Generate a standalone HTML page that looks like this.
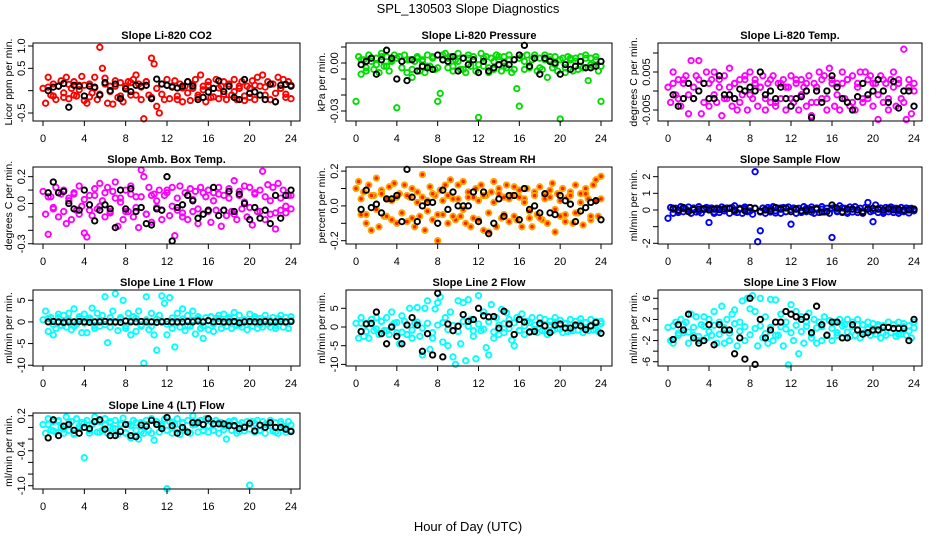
<!DOCTYPE html>
<html><head><meta charset="utf-8"><style>
html,body{margin:0;padding:0;background:#fff;}
svg{display:block;font-family:"Liberation Sans",sans-serif;}
</style></head><body>
<svg id="c" width="936" height="540" viewBox="0 0 936 540">
<text x="468" y="13" text-anchor="middle" font-size="13">SPL_130503  Slope Diagnostics</text>
<text x="468" y="531" text-anchor="middle" font-size="13">Hour of Day (UTC)</text>
</svg>
<script>
const hoursA=[0,0.25,0.5,0.75,1,1.25,1.5,1.75,2,2.25,2.5,2.75,3,3.25,3.5,3.75,4,4.25,4.5,4.75,5,5.25,5.5,5.75,6,6.25,6.5,6.75,7,7.25,7.5,7.75,8,8.25,8.5,8.75,9,9.25,9.5,9.75,10,10.25,10.5,10.75,11,11.25,11.5,11.75,12,12.25,12.5,12.75,13,13.25,13.5,13.75,14,14.25,14.5,14.75,15,15.25,15.5,15.75,16,16.25,16.5,16.75,17,17.25,17.5,17.75,18,18.25,18.5,18.75,19,19.25,19.5,19.75,20,20.25,20.5,20.75,21,21.25,21.5,21.75,22,22.25,22.5,22.75,23,23.25,23.5,23.75,24];
const hoursK=[0.5,1,1.5,2,2.5,3,3.5,4,4.5,5,5.5,6,6.5,7,7.5,8,8.5,9,9.5,10,10.5,11,11.5,12,12.5,13,13.5,14,14.5,15,15.5,16,16.5,17,17.5,18,18.5,19,19.5,20,20.5,21,21.5,22,22.5,23,23.5,24];
const xTicks=[0,4,8,12,16,20,24];

const co2A=[0.05,-0.28,0.3,-0.1,0.15,-0.2,0.1,0.22,-0.15,0.3,-0.18,0.05,0.2,-0.12,0.12,0.32,-0.22,-0.28,0.15,-0.05,0.3,-0.2,0.97,0.5,0.28,-0.28,0.1,-0.3,0.22,-0.15,0.18,-0.25,0.1,0.2,-0.1,0.25,0.35,0.15,-0.2,-0.63,0.2,-0.1,0.73,0.6,-0.35,-0.5,0.15,-0.2,0.25,-0.18,0.1,0.22,-0.2,0.15,-0.25,0.1,0.2,-0.22,0.05,0.25,-0.15,0.35,0.1,-0.25,0.2,-0.15,0.05,0.25,-0.18,0.1,0.2,-0.2,0.15,-0.1,0.25,-0.2,0.05,0.2,-0.22,0.1,-0.15,0.22,-0.2,0.3,0.1,0.35,-0.1,0.2,-0.2,0.15,-0.25,0.3,0.05,0.25,-0.15,0.2,-0.18];
const co2B=[0.08,-0.12,0.1,-0.05,0.14,-0.1,0.02,0.12,-0.14,0.06,-0.08,0.15,-0.02,0.1,-0.12,0.05,0.18,-0.1,0.08,0.2,-0.15,0.05,-0.08,0.12,0.1,-0.12,0.06,-0.05,0.14,-0.1,0.02,0.12,-0.14,0.06,-0.08,0.1,-0.02,0.1,-0.12,0.05,0.12,-0.1,0.08,0.14,-0.06,0.05,-0.08,0.12];
const co2K=[0,0.08,0.1,0.16,-0.37,0.12,0.1,-0.12,0.1,0.08,-0.1,0.18,0,0.15,-0.18,0.04,-0.02,0.12,0.1,0.12,-0.18,0.26,0.15,0.12,0.08,0.06,0.1,0.2,0.1,-0.2,-0.15,-0.03,0.05,0.22,-0.02,0.1,-0.15,-0.2,0.25,-0.06,-0.03,-0.1,-0.2,0.15,-0.25,0.12,0.14,0.1];

const presA=[-0.024,0.004,-0.007,0.002,-0.005,0.005,0.001,-0.004,0.003,-0.006,0.006,-0.002,0.004,-0.005,0.002,0.005,-0.028,0.004,-0.003,0.005,-0.006,0.002,-0.009,0.001,0.004,-0.005,0.002,-0.006,0.005,-0.002,0.003,-0.004,-0.024,-0.019,0.005,0.006,-0.003,0.004,-0.005,0.002,0.006,-0.004,0.003,-0.006,0.005,-0.002,0.004,-0.005,-0.034,0.006,-0.002,0.004,-0.006,0.003,-0.004,0.005,0.002,-0.005,0.004,-0.003,0.005,-0.006,0.002,-0.016,-0.027,0.004,-0.004,0.005,-0.003,0.002,0.005,-0.005,0.003,-0.004,0.005,-0.009,0.002,-0.003,0.004,-0.005,-0.035,0.003,-0.006,0.004,0.002,-0.005,0.003,-0.004,0.004,-0.003,0.005,-0.011,0.003,-0.002,0.004,-0.005,-0.024];
const presB=[0.002,-0.003,0.003,-0.001,0.004,-0.002,0.001,0.003,-0.003,0.002,-0.004,0.003,0.001,-0.002,0.004,-0.003,0.002,0.003,-0.002,0.001,-0.004,0.003,0.002,-0.001,0.003,-0.003,0.001,0.004,-0.002,0.002,-0.004,0.003,0.001,-0.002,0.003,-0.003,0.002,0.004,-0.001,0.002,-0.003,0.003,0.001,-0.002,0.003,-0.001,0.002,-0.002];
const presK=[-0.001,0.001,0.003,-0.007,0.002,0.008,0.003,-0.010,0.001,-0.011,0.002,-0.005,-0.002,-0.003,-0.004,0.005,0.002,0.001,0.004,-0.005,0.003,-0.001,0.002,-0.006,0.001,-0.005,-0.003,-0.001,0,-0.001,0.002,0.005,0.011,-0.002,0.003,-0.007,0.003,0.001,0,-0.007,-0.001,-0.004,-0.002,0.001,-0.003,-0.003,-0.002,0.001];

const tempA=[0.001,-0.003,0.005,-0.001,0.003,-0.004,0.002,0.004,-0.006,0.008,-0.002,0.004,0.008,-0.006,0.002,0.005,-0.004,0.003,0.005,-0.003,0.001,-0.0065,0.004,-0.002,0.006,-0.004,0.002,-0.005,0.003,-0.001,0.004,-0.005,0.005,-0.002,0.003,-0.004,0.001,0.004,-0.005,0.002,-0.003,0.004,-0.004,0.002,-0.002,0.003,-0.005,0.001,0.004,-0.003,0.002,-0.005,0.003,0.001,-0.004,0.004,-0.0065,0.002,-0.003,0.005,-0.002,0.004,-0.005,0.006,0.003,-0.004,0.002,-0.005,0.005,-0.002,0.003,-0.004,0.004,-0.005,0.002,0.005,-0.003,0.005,-0.002,0.004,-0.004,0.002,-0.0075,0.004,-0.003,0.002,-0.005,0.003,0.005,-0.004,0.003,-0.002,0.011,-0.0075,0.003,-0.006,0];
const tempB=[0.002,-0.002,0.003,-0.001,0.001,0.003,-0.003,0.002,-0.001,0.003,-0.002,0.001,0.002,-0.003,0.003,-0.001,0.002,0.001,-0.002,0.003,-0.003,0.002,0.001,-0.002,0.003,-0.001,0.002,-0.003,0.001,0.003,-0.002,0.002,-0.001,0.002,0.003,-0.003,0.001,-0.002,0.003,0.002,-0.001,0.003,-0.002,0.001,0.002,-0.003,0.001,0.002];
const tempK=[-0.001,-0.004,-0.002,0.002,-0.002,0,0.002,-0.002,-0.002,0.004,-0.001,-0.001,-0.002,0.0005,0,0.001,0,0.005,-0.001,0,-0.002,0.001,-0.002,-0.004,-0.002,-0.0015,0,-0.007,0,-0.003,0,0.004,0.001,-0.002,-0.003,-0.005,-0.0015,0.002,-0.001,0,0.003,0,-0.003,0.0025,-0.0045,0,0,-0.004];

const ambA=[0.09,-0.08,-0.23,0.05,-0.03,0.12,-0.1,0.07,0.1,-0.15,0.04,-0.12,0.08,-0.05,0.13,-0.02,-0.22,-0.25,0.06,-0.09,0.11,-0.04,0.15,0.02,-0.1,0.12,-0.06,0.09,0.16,-0.17,0.04,-0.12,0.1,-0.06,0.13,-0.1,0.05,-0.18,0.25,0.2,-0.08,0.12,-0.14,0.07,-0.03,0.1,-0.12,0.06,0.1,-0.09,0.12,-0.24,-0.05,0.13,-0.1,0.08,-0.12,0.11,-0.06,0.09,-0.15,0.12,-0.08,0.05,0.1,-0.14,0.08,-0.05,0.12,-0.17,0.06,-0.09,0.11,-0.06,0.17,-0.12,0.09,-0.04,0.13,-0.1,0.12,-0.16,0.08,-0.06,0.1,0.24,-0.12,0.14,-0.08,0.12,-0.19,0.15,-0.05,0.1,-0.07,0.06,-0.04];
const ambB=[0.05,-0.04,0.08,-0.06,0.02,0.07,-0.08,0.03,-0.05,0.06,-0.02,0.08,-0.07,0.04,0.01,-0.06,0.07,-0.03,0.05,-0.08,0.06,0.02,-0.05,0.08,-0.02,0.04,-0.07,0.06,0.03,-0.04,0.08,-0.06,0.02,0.07,-0.05,0.04,-0.08,0.06,0.01,-0.03,0.07,-0.06,0.05,0.02,-0.07,0.04,-0.02,0.06];
const ambK=[0.08,0.16,0.08,0.09,0,-0.04,-0.05,0.1,-0.01,-0.13,-0.05,-0.01,-0.04,-0.18,0.1,-0.04,0.11,-0.06,-0.03,-0.15,-0.16,-0.04,-0.05,0.2,-0.28,-0.03,-0.01,0.06,0.02,-0.11,-0.08,-0.05,0.12,-0.09,-0.05,0.09,-0.06,0.07,0,-0.12,-0.03,-0.11,-0.05,-0.15,0.06,-0.11,0.06,0.1];

const rhA=[0.1,0.14,-0.05,0.08,-0.1,0.12,-0.14,0.06,0.16,-0.12,0.09,-0.06,0.04,0.11,-0.08,0.13,-0.1,0.07,-0.04,0.12,-0.09,0.05,0.1,-0.12,0.08,-0.06,0.18,-0.14,0.03,0.11,-0.08,0.06,-0.2,0.09,-0.05,0.12,-0.1,0.15,0.04,-0.08,0.12,-0.06,0.14,-0.1,0.08,-0.12,0.05,0.1,-0.08,0.12,-0.14,0.06,-0.15,0.08,0.14,-0.12,0.1,-0.07,0.05,0.12,-0.09,0.06,0.11,-0.08,0.09,-0.12,0.04,0.1,-0.07,-0.12,0.08,-0.05,0.11,-0.08,0.06,-0.1,0.09,0.13,-0.15,0.07,-0.06,0.1,-0.09,0.05,0.08,-0.1,0.12,-0.04,0.07,-0.11,0.1,0.04,-0.08,0.12,0.15,-0.06,0.17];
const rhB=[0.04,-0.05,0.06,-0.02,0.07,-0.06,0.03,0.05,-0.04,0.06,-0.07,0.02,0.05,-0.03,0.07,-0.05,0.03,0.06,-0.06,0.04,-0.02,0.05,-0.07,0.03,0.06,-0.04,0.02,0.07,-0.05,0.04,-0.06,0.05,0.02,-0.03,0.06,-0.07,0.04,0.05,-0.02,0.03,-0.05,0.06,-0.04,0.02,0.07,-0.06,0.03,0.04];
const rhK=[-0.02,0.09,-0.01,0.01,-0.04,0.04,0.04,0.06,-0.09,0.21,0.05,-0.09,0,0.02,0.02,-0.1,0.09,-0.02,0.08,0,0,0,0.08,-0.09,0.08,-0.16,-0.1,0.04,-0.06,0.06,0.06,-0.08,0.1,-0.02,0,-0.04,0.07,-0.04,-0.05,0.06,0.03,0.01,-0.09,-0.03,-0.01,0.02,0.03,-0.08];

const sampA=[-0.5,0.15,-0.2,0.1,-0.15,0.2,-0.1,0.05,0.18,-0.2,0.1,-0.12,0.2,-0.18,0.05,0.15,-0.75,0.12,-0.2,0.1,-0.15,0.18,-0.05,0.12,-0.2,0.15,0.25,-0.15,0.1,-0.2,0.18,-0.1,0.15,-0.25,2.3,-1.9,-1.25,0.12,-0.2,0.15,-0.12,0.2,-0.18,0.1,-0.2,0.15,-0.1,0.18,-0.85,0.12,-0.2,0.1,-0.15,0.2,-0.1,0.05,0.18,-0.2,0.12,-0.15,0.2,-0.12,0.1,-0.2,-1.65,0.15,-0.1,0.25,-0.15,0.1,-0.2,0.18,-0.12,0.2,-0.15,0.1,-0.2,0.15,0.45,-0.1,-0.7,0.3,-0.15,0.12,-0.2,0.15,-0.1,0.18,-0.15,0.1,-0.2,0.15,-0.1,0.12,-0.18,0.1,0.05];
const sampB=[0.05,-0.1,0.08,-0.05,0.12,-0.08,0.02,0.1,-0.12,0.06,-0.04,0.1,-0.1,0.05,0.08,-0.06,0.1,-0.12,0.04,0.08,-0.05,0.12,-0.1,0.02,0.08,-0.06,0.1,-0.12,0.05,0.04,-0.08,0.1,-0.05,0.12,-0.1,0.06,0.02,-0.08,0.1,-0.04,0.08,-0.12,0.05,0.1,-0.06,0.02,0.08,-0.05];
const sampK=[0.1,0,0.15,-0.1,0.02,0.05,0.08,0,0.05,0.02,0.08,0.1,0,0.05,-0.05,0.15,0.1,-0.08,0,-0.05,0.15,0.05,0.12,-0.1,0.05,-0.05,0,0.02,0.05,-0.12,-0.1,0.3,0.1,-0.1,0.05,0.05,0,-0.15,0.05,0.1,0.05,0,0.1,0,0.05,0,0,0.05];

const l1A=[0.5,2.5,-2.2,1,-3,-1.5,1.8,-0.8,1.5,-1.2,2,-1.8,3,-0.5,1.2,-2.5,1.8,-2.5,0.5,3.2,-1.5,2,-1,1.5,5.8,-4.8,-1.2,2.5,6.5,-2,1,5,-1.5,2,-3,1.2,-2.2,2.5,-1,-9.5,5.8,-1.8,2,-3,-6.5,1.5,6,4.3,-3,5.6,-1.5,-5.8,2,-1.2,3,-2,1.5,-1,2.5,-2.8,1.2,-1.5,-3.8,1,-1.8,1.2,-2.2,0.8,1.5,-1.5,1.8,-1,1,-1.5,2.2,-0.8,1.5,-1.2,0.5,-1.8,1.8,-1,1.2,-1.5,0.8,-1.2,1.5,-0.5,-1.2,1,-1.5,0.8,1.5,-1.2,1,-1.5,1.2];
const l1B=[0.8,-0.6,1,-0.4,0.5,-1,0.7,-0.3,0.9,-0.8,0.4,-0.6,1,-0.2,0.6,-0.9,0.3,0.8,-0.7,0.5,-1,0.6,0.2,-0.5,0.9,-0.3,0.7,-0.8,0.4,0.6,-0.9,0.3,-0.5,0.8,-0.4,0.6,1,-0.7,0.2,-0.3,0.7,-0.6,0.5,0.3,-0.8,0.6,-0.2,0.4];
const l1K=[0,0.1,0,-0.1,0,0,0.1,0,-0.1,0,0,0.1,0,0,-0.1,0.2,0,0,0.1,0,0,-0.1,0,0.1,0,0,0,0.1,0,0.2,0,0.3,0,0.1,0,0,0.1,-0.2,0,0.1,0,0,0.1,0,0,0.1,0,0.1];

const l2A=[1,-3,2.5,-2.5,1,-3,2,-1,2.5,-2,1.5,-1,2.5,-2,4,1,-1.5,-4.5,3,1.5,-2,5,-3,1,5.2,-2.5,-7.5,5,7,-6,-3,4.8,6.5,8,-4,2.5,-5,4,-8,-10,7,-4.5,6.5,-9,7.3,2,-2.5,-8.5,8.4,-1,4,-5.5,-7.5,6,-3,2.5,-2,4.7,-1.5,3.8,2,-3.5,-5,2.5,-1,3.5,-2,1.5,-1.5,2.5,0.5,-1.5,2.5,-1,2,-2,1.5,-1,2.5,-0.5,1.8,-1.5,1,-1.2,2,-1,1.5,-0.8,2.2,-1.5,1.2,-1,2,-0.8,1.5,-1.2,1.5];
const l2B=[1,-1.2,0.8,-0.5,1.5,-1,0.3,1.2,-1.4,0.6,-0.8,1.3,-0.3,1,-1.5,0.5,1.2,-0.7,0.4,-1.2,1.5,0.2,-1,0.8,-0.6,1.4,-1.3,0.5,0.9,-0.4,1.1,-0.9,0.3,1.2,-0.6,0.7,-1.1,0.4,1.3,-0.5,0.8,-1,0.6,1.1,-0.8,0.2,-0.6,0.9];
const l2K=[-1.2,0.8,1,4,-1.8,-4.5,0,-2.5,-4.5,0.5,2.5,0.5,-6.5,-1.8,-7.5,9,-8,0.8,-1,0.2,3.3,1.5,2,5,3,2.7,2.8,-0.3,4.2,0.8,-2,2,1.3,-1.3,-1.2,1,0.3,-1.5,0.5,0.8,-0.3,-0.3,0.5,0.3,-0.7,0.3,1.2,-1.7];

const l3A=[0.5,-2,-2.5,1.5,-1,2,-0.5,1.5,-2.5,3,-1,2.5,-2,1,2.5,-1.5,2,-1,3.5,-2.5,1.5,4.5,-2.5,2,-2,3,3.8,-3,1.5,5.5,-2,6,4,6.5,3.5,-3,6,-1.5,2.5,-2.5,5.8,-2,5.7,-1,3,-3,1.5,-6.6,4.8,-2,3.5,-4.5,2.5,-2.5,1.5,3.2,-1.5,2,-2.5,1.5,-2,2.5,-1,1.8,-2,1.5,-1,2,-1.5,1,2,-1.2,1.5,-1,2,-1.5,1,-0.5,1.5,-1,1.2,-0.8,1,-1.5,0.8,-1,1.5,-0.5,1,-1.2,1.5,-0.8,1.2,-1,0.8,-1.5,1.5];
const l3B=[0.8,-0.6,1,-0.4,0.5,-1.2,0.7,-0.3,0.9,-0.8,0.4,-0.6,1.2,-0.2,0.6,-0.9,0.3,0.8,-0.7,0.5,-1,0.6,0.2,-0.5,0.9,-0.3,0.7,-0.8,0.4,0.6,-0.9,0.3,-0.5,0.8,-0.4,0.6,1,-0.7,0.2,-0.3,0.7,-0.6,0.5,0.3,-0.8,0.6,-0.2,0.4];
const l3K=[-1.8,1,0,3,-1.5,-2.5,-2,1,-2.8,1,0,0,-4.5,-1.5,-5.5,6,-6.5,2,-1.5,0,1.5,1.5,3.5,3,2.5,2,2.5,-0.5,4.5,1,-1,1.5,1.5,-1.5,-1.5,1,0,-0.8,-0.5,0,0,0.5,0.5,0.3,0.3,0.3,-2,2];

const l4A=[0.05,-0.1,0.15,-0.05,0.1,-0.08,0.12,0,-0.1,0.18,-0.05,0.1,-0.12,0.15,-0.02,0.08,-0.52,0.12,-0.1,0.05,0.18,-0.08,0.1,-0.05,0.15,-0.1,0.08,-0.02,0.12,-0.12,0.05,0.16,-0.1,0.05,-0.18,0.12,-0.05,-0.2,0.08,-0.1,0.12,-0.05,0.15,-0.22,0.1,-0.08,0.05,0.14,-1.05,0.1,-0.1,0.05,0.15,-0.12,0.08,-0.05,0.12,-0.1,0.2,0.05,-0.08,0.12,-0.05,0.15,-0.08,0.1,-0.05,0.12,-0.1,0.08,0.02,-0.2,0.1,-0.05,0.12,-0.1,0.05,0.08,-0.06,0.1,-0.99,0.1,-0.08,0.12,-0.05,0.1,-0.1,0.06,0.12,-0.06,0.08,-0.1,0.1,0.02,-0.08,0.1,-0.05];
const l4B=[0.05,-0.06,0.1,-0.03,0.08,-0.1,0.02,0.07,-0.05,0.09,-0.08,0.04,0.1,-0.02,0.06,-0.09,0.03,0.08,-0.07,0.05,-0.1,0.06,0.02,-0.05,0.09,-0.03,0.07,-0.08,0.04,0.1,-0.06,0.03,-0.05,0.08,-0.04,0.06,0.1,-0.07,0.02,-0.03,0.07,-0.06,0.05,0.03,-0.08,0.06,-0.02,0.04];
const l4K=[-0.18,0.13,-0.14,0.02,0.05,-0.05,-0.1,0,-0.02,0.1,0.13,-0.03,-0.14,-0.14,-0.07,0.05,-0.14,-0.16,0.04,0.02,0.12,0.05,-0.02,0.17,0.03,-0.1,0,-0.08,0.08,0.08,0.05,0.15,0.06,0.06,0.06,0.03,0.03,-0.02,0,0.07,-0.06,0.04,0,0.08,0,0,-0.03,-0.07];

const colsX=[[33,300,43,291],[346,612,356,601],[658,922,668,914]];
const rowsY=[[43,121],[167,244],[290,366],[413,489]];
const panels=[
 {name:'co2',title:'Slope Li-820 CO2',ylab:'Licor ppm per min.',c:0,r:0,ymax:1.067,ymin:-0.679,ticks:[-0.5,0,0.5,1],labels:['-0.5','','0.5','1.0'],col:'#ff0000',A:co2A,B:co2B,K:co2K},
 {name:'pressure',title:'Slope Li-820 Pressure',ylab:'kPa per min.',c:1,r:0,ymax:0.0125,ymin:-0.03625,ticks:[-0.03,-0.02,-0.01,0,0.01],labels:['-0.03','','','0.00',''],col:'#00dd00',A:presA,B:presB,K:presK},
 {name:'temp',title:'Slope Li-820 Temp.',ylab:'degrees C per min.',c:2,r:0,ymax:0.01263,ymin:-0.00789,ticks:[-0.005,0,0.005,0.01],labels:['-0.005','','0.005',''],col:'#ff00ff',A:tempA,B:tempB,K:tempK},
 {name:'amb-box-temp',title:'Slope Amb. Box Temp.',ylab:'degrees C per min.',c:0,r:1,ymax:0.272,ymin:-0.302,ticks:[-0.3,-0.2,-0.1,0,0.1,0.2],labels:['-0.3','','','0.0','','0.2'],col:'#ff00ff',A:ambA,B:ambB,K:ambK},
 {name:'gas-rh',title:'Slope Gas Stream RH',ylab:'percent per min.',c:1,r:1,ymax:0.2236,ymin:-0.219,ticks:[-0.2,-0.1,0,0.1,0.2],labels:['-0.2','','0.0','','0.2'],col:'#ffa500',fill:'#ff2000',A:rhA,B:rhB,K:rhK},
 {name:'sample-flow',title:'Slope Sample Flow',ylab:'ml/min per min.',c:2,r:1,ymax:2.58,ymin:-2.04,ticks:[-2,-1,0,1,2],labels:['-2','','0','1','2'],col:'#0000ff',A:sampA,B:sampB,K:sampK},
 {name:'line1-flow',title:'Slope Line 1 Flow',ylab:'ml/min per min.',c:0,r:2,ymax:7.37,ymin:-10.18,ticks:[-10,-5,0,5],labels:['-10','-5','0','5'],col:'#00ffff',A:l1A,B:l1B,K:l1K},
 {name:'line2-flow',title:'Slope Line 2 Flow',ylab:'ml/min per min.',c:1,r:2,ymax:9.89,ymin:-10.43,ticks:[-10,-5,0,5],labels:['-10','-5','0','5'],col:'#00ffff',A:l2A,B:l2B,K:l2K},
 {name:'line3-flow',title:'Slope Line 3 Flow',ylab:'ml/min per min.',c:2,r:2,ymax:7.57,ymin:-6.81,ticks:[-6,-4,-2,0,2,4,6],labels:['-6','','-2','','2','','6'],col:'#00ffff',A:l3A,B:l3B,K:l3K},
 {name:'line4-flow',title:'Slope Line 4 (LT) Flow',ylab:'ml/min per min.',c:0,r:3,ymax:0.247,ymin:-1.056,ticks:[-1,-0.8,-0.6,-0.4,-0.2,0,0.2],labels:['-1.0','','','-0.4','','','0.2'],col:'#00ffff',A:l4A,B:l4B,K:l4K}
];
const NS='http://www.w3.org/2000/svg';
const svg=document.getElementById('c');
function mk(tag,attrs,parent){const e=document.createElementNS(NS,tag);for(const k in attrs)e.setAttribute(k,attrs[k]);parent.appendChild(e);return e;}
panels.forEach(p=>{
 const [L,R,x0,x24]=colsX[p.c];const [T,B]=rowsY[p.r];
 const sx=h=>x0+(x24-x0)*h/24;
 const sy=v=>T+(p.ymax-v)/(p.ymax-p.ymin)*(B-T);
 const g=mk('g',{},svg);
 
 
 const t=mk('text',{x:(L+R)/2,y:T-4,'text-anchor':'middle','font-size':'11','font-weight':'bold'},g);t.textContent=p.title;
 
 
 const yl=mk('text',{transform:`translate(${L-21},${(T+B)/2}) rotate(-90)`,'text-anchor':'middle','font-size':'10.5'},g);yl.textContent=p.ylab;
 
 
 const pts=mk('g',{},g);
 
 
 const drawSet=(xs,ys,stroke,fill,nm)=>{ys.forEach((v,i)=>{
   const c=mk('circle',{cx:sx(xs[i]).toFixed(1),cy:sy(v).toFixed(1),r:2.7,fill:fill||'none',stroke:stroke,'stroke-width':1.9},pts);
   
   
 });};
 drawSet(hoursA,p.A,p.col,p.fill,'point-colored');
 drawSet(hoursK,p.B,p.col,p.fill,'point-colored');
 drawSet(hoursK,p.K,'#000000',null,'point-black');
 const box=mk('rect',{x:L,y:T,width:R-L,height:B-T,fill:'none',stroke:'#000','stroke-width':1},g);
 
 
 const xa=mk('g',{},g);
 
 
 xTicks.forEach(h=>{const x=sx(h);mk('line',{x1:x,x2:x,y1:B,y2:B+5,stroke:'#000'},xa);
   const tx=mk('text',{x:x,y:B+21,'text-anchor':'middle','font-size':'11'},xa);tx.textContent=h;
   
   });
 const ya=mk('g',{},g);
 
 
 mk('line',{x1:L,x2:L,y1:sy(p.ticks[0]),y2:sy(p.ticks[p.ticks.length-1]),stroke:'#000'},ya);
 p.ticks.forEach((v,i)=>{const y=sy(v);mk('line',{x1:L-5,x2:L,y1:y,y2:y,stroke:'#000'},ya);
   if(p.labels[i]){const ty=mk('text',{transform:`translate(${L-8},${y}) rotate(-90)`,'text-anchor':'middle','font-size':'11'},ya);ty.textContent=p.labels[i];
   
   }});
});
</script>
</body></html>
